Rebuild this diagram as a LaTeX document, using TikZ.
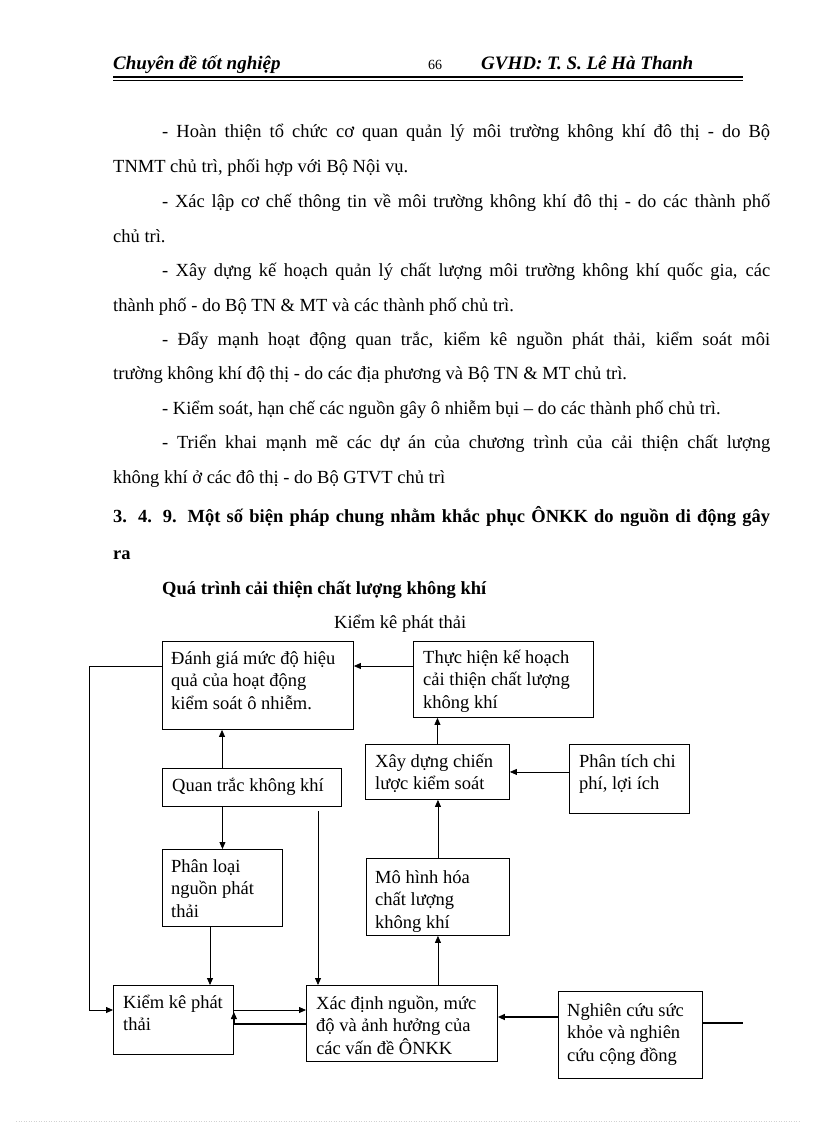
\documentclass[tikz,border=0pt]{standalone}
\usepackage{fontspec}
\setmainfont{Liberation Serif}
\usetikzlibrary{arrows.meta,calc}
\newcommand{\boxlines}[1]{\begin{tabular}[t]{@{}l@{}}#1\end{tabular}}
\newcommand{\jline}[2]{\makebox[#1][s]{#2}}
\begin{document}
\begin{tikzpicture}[x=1pt,y=-1pt,
  font=\fontsize{18.5}{22.5}\selectfont,
  frame/.style={draw, line width=0.9pt, inner sep=0pt, anchor=north west},
  btxt/.style={anchor=base west, inner sep=0pt},
  arr/.style={-{Triangle[length=7pt,width=6pt]}, line width=0.8pt},
  heavy/.style={line width=2pt},
  bld/.style={btxt, font=\fontsize{18.5}{22.5}\selectfont\bfseries},
  hdr/.style={btxt, font=\fontsize{19}{22}\selectfont\bfseries\itshape}]
\fill[white] (0,0) rectangle (816,1123);
\useasboundingbox (0,0) rectangle (816,1123);

% header
\node[hdr] (h1) at (113,70) {Chuyên đề tốt nghiệp};
\node[btxt, font=\fontsize{14}{16}\selectfont] (h2) at (428,70) {66};
\node[hdr] (h3) at (481,70) {GVHD: T. S. Lê Hà Thanh};
\coordinate (hl) at (113,77); \coordinate (hr) at (743,77);
\draw[line width=1.6pt] (hl) -- (hr);
\draw[line width=0.6pt] ([yshift=-3pt]hl) -- ([yshift=-3pt]hr);

% body text
\node[btxt] (t1) at (162,138) {\jline{608pt}{- Hoàn thiện tổ chức cơ quan quản lý môi trường không khí đô thị - do Bộ}};
\node[btxt] (t2) at (113,173) {TNMT chủ trì, phối hợp với Bộ Nội vụ.};
\node[btxt] (t3) at (162,208) {\jline{608pt}{- Xác lập cơ chế thông tin về môi trường không khí đô thị - do các thành phố}};
\node[btxt] (t4) at (113,242) {chủ trì.};
\node[btxt] (t5) at (162,276) {\jline{608pt}{- Xây dựng kế hoạch quản lý chất lượng môi trường không khí quốc gia, các}};
\node[btxt] (t6) at (113,311) {thành phố - do Bộ TN \& MT và các thành phố chủ trì.};
\node[btxt] (t7) at (162,345) {\jline{608pt}{- Đẩy mạnh hoạt động quan trắc, kiểm kê nguồn phát thải, kiểm soát môi}};
\node[btxt] (t8) at (113,379) {trường không khí độ thị - do các địa phương và Bộ TN \& MT chủ trì.};
\node[btxt] (t9) at (162,414) {- Kiểm soát, hạn chế các nguồn gây ô nhiễm bụi – do các thành phố chủ trì.};
\node[btxt] (t10) at (162,448) {\jline{608pt}{- Triển khai mạnh mẽ các dự án của chương trình của cải thiện chất lượng}};
\node[btxt] (t11) at (113,483) {không khí ở các đô thị - do Bộ GTVT chủ trì};
\node[bld] (t12) at (113,522) {\jline{657pt}{3. 4. 9. Một số biện pháp chung nhằm khắc phục ÔNKK do nguồn di động gây}};
\node[bld] (t13) at (113,559) {ra};
\node[bld] (t14) at (162,594) {Quá trình cải thiện chất lượng không khí};
\node[btxt] (t15) at (334,628) {Kiểm kê phát thải};

% boxes
\node[frame, minimum width=191pt, minimum height=88pt] (A) at (162,641) {};
\node[frame, minimum width=180pt, minimum height=76pt] (B) at (413,641) {};
\node[frame, minimum width=144pt, minimum height=55pt] (C) at (365,744) {};
\node[frame, minimum width=120pt, minimum height=69pt] (D) at (569,744) {};
\node[frame, minimum width=179pt, minimum height=38pt] (E) at (162,768) {};
\node[frame, minimum width=120pt, minimum height=77pt] (F) at (162,849) {};
\node[frame, minimum width=120pt, minimum height=69pt] (G) at (113,985) {};
\node[frame, minimum width=191pt, minimum height=76pt] (H) at (306,985) {};
\node[frame, minimum width=143pt, minimum height=77pt] (I) at (366,858) {};
\node[frame, minimum width=144pt, minimum height=87pt] (J) at (558,991) {};

% box texts
\node[btxt] (At) at (171,664) {\boxlines{Đánh giá mức độ hiệu\\quả của hoạt động\\kiểm soát ô nhiễm.}};
\node[btxt] (Bt) at (423,663) {\boxlines{Thực hiện kế hoạch\\cải thiện chất lượng\\không khí}};
\node[btxt] (Ct) at (375,767) {\boxlines{Xây dựng chiến\\lược kiểm soát}};
\node[btxt] (Dt) at (579,767) {\boxlines{Phân tích chi\\phí, lợi ích}};
\node[btxt] (Et) at (172,791) {Quan trắc không khí};
\node[btxt] (Ft) at (171,872) {\boxlines{Phân loại\\nguồn phát\\thải}};
\node[btxt] (Gt) at (123,1008) {\boxlines{Kiểm kê phát\\thải}};
\node[btxt] (Ht) at (316,1009) {\boxlines{Xác định nguồn, mức\\độ và ảnh hưởng của\\các vấn đề ÔNKK}};
\node[btxt] (It) at (375,883) {\boxlines{Mô hình hóa\\chất lượng\\không khí}};
\node[btxt] (Jt) at (567,1016) {\boxlines{Nghiên cứu sức\\khỏe và nghiên\\cứu cộng đồng}};

% connectors
\draw[arr] ($(B.north west)+(0,25)$) -- ($(A.north east)+(0,25)$);
\draw[arr] (C.north) -- (C.north |- B.south);
\draw[arr] (I.north) -- (I.north |- C.south);
\draw[arr] (H.north -| I.south) -- (I.south);
\draw[arr] (D.west |- C.east) -- (C.east);
\coordinate (xe) at (222,0);
\draw[arr] (E.north -| xe) -- (A.south -| xe);
\draw[arr] (E.south -| F.north) -- (F.north);
\coordinate (xf) at (210,0);
\draw[arr] (F.south -| xf) -- (G.north -| xf);
\coordinate (xq) at (318,811);
\draw[arr] (xq) -- (H.north -| xq);
\draw[arr] ($(G.north east)+(0,25)$) -- ($(H.north west)+(0,25)$);
\draw[heavy] ($(H.north west)+(0,39)$) -- ($(G.north east)+(0,39)$);
\draw[arr] ($(G.north east)+(0,39)$) -- ($(G.north east)+(0,27)$);
\coordinate (xl) at (89,1010);
\draw[arr] ($(A.north west)+(0,25)$) -| (xl) -- ($(G.north west)+(0,25)$);
\coordinate (jh) at ($(J.north west)+(0,26)$);
\draw[arr, line width=1.4pt] (jh) -- (jh -| H.east);
\coordinate (jr) at ($(J.north east)+(0,32)$);
\coordinate (xr) at (743,0);
\draw[heavy] (jr) -- (jr -| xr);

% footer
\coordinate (fl) at (16,1121); \coordinate (fr) at (800,1121);
\draw[gray!35, dotted, line width=0.5pt] (fl) -- (fr);
\end{tikzpicture}
\end{document}
